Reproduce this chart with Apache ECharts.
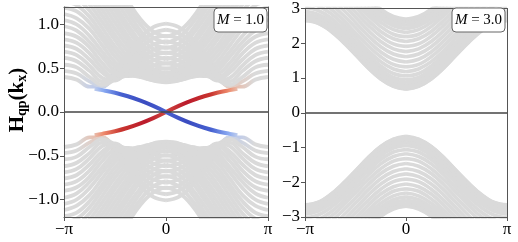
<!DOCTYPE html>
<html><head><meta charset="utf-8">
<script src="https://cdn.jsdelivr.net/npm/echarts@6/dist/echarts.min.js"></script>
<style>html,body{margin:0;padding:0;background:#fff}#c{width:518px;height:242px}</style>
</head><body><div id="c"></div>
<script>
// kx samples (units of pi), half Brillouin zone; the other half is drawn on a mirrored axis
const kxHalf = [0, 0.125, 0.25, 0.375, 0.5, 0.625, 0.75, 0.875, 1];

// M = 1.0 panel, positive-energy bulk bands (negative ones drawn on mirrored y axis)
const leftBands = [
 [1.01,0.97,0.85,0.68,0.46,0.29,0.29,0.37,0.40],
 [0.94,0.90,0.79,0.62,0.42,0.29,0.35,0.44,0.47],
 [0.87,0.84,0.73,0.57,0.38,0.31,0.40,0.51,0.54],
 [0.81,0.77,0.67,0.52,0.37,0.35,0.47,0.58,0.62],
 [0.74,0.71,0.61,0.48,0.36,0.39,0.53,0.65,0.69],
 [0.68,0.65,0.56,0.45,0.37,0.45,0.60,0.72,0.76],
 [0.62,0.59,0.51,0.42,0.39,0.50,0.67,0.79,0.83],
 [0.56,0.53,0.47,0.41,0.43,0.56,0.74,0.86,0.90],
 [0.50,0.48,0.44,0.41,0.47,0.63,0.80,0.93,0.98],
 [0.45,0.44,0.41,0.43,0.52,0.69,0.87,1.00,1.05],
 [0.41,0.40,0.40,0.45,0.57,0.76,0.95,1.07,1.12],
 [0.37,0.37,0.40,0.49,0.63,0.83,1.02,1.15,1.19],
 [0.35,0.36,0.42,0.53,0.69,0.89,1.09,1.22,1.26],
 [0.34,0.36,0.44,0.58,0.75,0.96,1.16,1.29,1.34],
 [0.35,0.38,0.48,0.63,0.82,1.03,1.23,1.36,1.41],
 [0.37,0.41,0.52,0.69,0.88,1.10,1.30,1.43,1.48],
 [0.40,0.45,0.57,0.75,0.95,1.17,1.37,1.51,1.55],
 [0.44,0.49,0.62,0.81,1.02,1.24,1.44,1.58,1.63],
 [0.49,0.54,0.68,0.87,1.09,1.31,1.52,1.65,1.70],
 [0.55,0.60,0.74,0.94,1.16,1.38,1.59,1.72,1.77],
 [0.60,0.66,0.80,1.00,1.22,1.46,1.66,1.79,1.84],
 [0.67,0.72,0.87,1.07,1.29,1.53,1.73,1.86,1.91],
 [0.73,0.78,0.93,1.14,1.36,1.60,1.80,1.94,1.99],
 [0.79,0.85,1.00,1.20,1.43,1.67,1.88,2.01,2.06],
 [0.86,0.92,1.06,1.27,1.50,1.74,1.94,2.08,2.13]
];

// M = 3.0 panel, positive-energy bulk bands
const rightBands = [
 [0.68,0.76,0.97,1.29,1.67,2.04,2.36,2.58,2.65],
 [0.69,0.77,0.98,1.30,1.68,2.05,2.37,2.59,2.66],
 [0.73,0.80,1.01,1.33,1.71,2.09,2.41,2.62,2.70],
 [0.78,0.85,1.07,1.39,1.76,2.14,2.46,2.67,2.75],
 [0.86,0.93,1.14,1.46,1.84,2.22,2.54,2.75,2.83],
 [0.95,1.02,1.24,1.56,1.93,2.31,2.63,2.84,2.92],
 [1.06,1.13,1.35,1.67,2.04,2.42,2.74,2.95,3.03],
 [1.18,1.26,1.47,1.79,2.17,2.55,2.87,3.08,3.15],
 [1.32,1.39,1.61,1.93,2.30,2.68,3.00,3.21,3.29],
 [1.46,1.54,1.75,2.07,2.45,2.82,3.14,3.36,3.43],
 [1.61,1.69,1.90,2.22,2.60,2.97,3.29,3.51,3.58],
 [1.76,1.84,2.05,2.37,2.75,3.12,3.44,3.66,3.73],
 [1.91,1.98,2.20,2.52,2.89,3.27,3.59,3.80,3.88],
 [2.05,2.13,2.34,2.66,3.04,3.41,3.73,3.95,4.02],
 [2.19,2.26,2.48,2.80,3.17,3.55,3.87,4.08,4.16],
 [2.31,2.39,2.60,2.92,3.30,3.67,3.99,4.21,4.28],
 [2.42,2.50,2.71,3.03,3.41,3.78,4.10,4.32,4.39],
 [2.52,2.59,2.80,3.12,3.50,3.88,4.20,4.41,4.49],
 [2.59,2.67,2.88,3.20,3.58,3.95,4.27,4.49,4.56],
 [2.65,2.72,2.93,3.25,3.63,4.01,4.33,4.54,4.62],
 [2.68,2.75,2.97,3.29,3.66,4.04,4.36,4.57,4.65],
 [2.69,2.77,2.98,3.30,3.68,4.05,4.37,4.59,4.66]
];

// chiral edge state (M = 1.0), half branch kx >= 0, E >= 0
const edgeK = [0, 0.125, 0.25, 0.375, 0.5, 0.625, 0.7];
const edgeE = [0, 0.07, 0.13, 0.18, 0.22, 0.25, 0.265];

const xTicks = [-1, 0, 1];
const xTickLabels = ['\u2212\u03c0', '0', '\u03c0'];
const leftYTicks = [-1, -0.5, 0, 0.5, 1];
const rightYTicks = [-3, -2, -1, 0, 1, 2, 3];
const panelLabels = ['1.0', '3.0'];

const FONT = 'Liberation Serif';
const FRAME = '#555';
const GRAY = '#dadada';

const xFmt = v => { const i = xTicks.indexOf(Math.round(v)); return i < 0 ? '' : xTickLabels[i]; };
const yFmt1 = v => (v < 0 ? '\u2212' : '') + Math.abs(v).toFixed(1);
const yFmt0 = v => (v < 0 ? '\u2212' : '') + Math.abs(v).toFixed(0);

function xA(grid, inverse, shown) {
  return { type: 'value', gridIndex: grid, min: -1, max: 1, interval: 1, inverse: inverse,
    position: shown ? 'bottom' : 'top',
    axisLine: { show: true, onZero: false, lineStyle: { color: FRAME, width: 1 } },
    axisTick: { show: shown, length: 4, lineStyle: { color: FRAME } },
    axisLabel: { show: shown, formatter: xFmt, color: '#000', fontFamily: FONT, fontSize: 17, margin: 4 },
    splitLine: { show: false }, z: 10 };
}
function yA(grid, inverse, shown, lim, ticks, fmt) {
  return { type: 'value', gridIndex: grid, min: -lim, max: lim, inverse: inverse,
    position: shown ? 'left' : 'right',
    axisLine: { show: true, onZero: false, lineStyle: { color: FRAME, width: 1 } },
    axisTick: { show: shown, length: 4, lineStyle: { color: FRAME }, customValues: ticks },
    axisLabel: { show: shown, formatter: fmt, color: '#000', fontFamily: FONT, fontSize: 17, margin: 5, customValues: ticks },
    splitLine: { show: false }, z: 10 };
}

// faint edge-weight tint of the lowest bulk bands near the edge-state joints
const redTint = ['#e6c0b1', '#e1cdc5'];
const blueTint = ['#bfcbea', '#ccd3e3'];
function tintGrad(tint, inv) {
  const stops = [{offset:0,color:GRAY},{offset:0.45,color:GRAY},{offset:0.6,color:tint},{offset:0.7,color:tint},{offset:0.85,color:GRAY},{offset:1,color:GRAY}];
  return inv ? new echarts.graphic.LinearGradient(1, 0, 0, 0, stops) : new echarts.graphic.LinearGradient(0, 0, 1, 0, stops);
}

const series = [];
function addBands(bands, xBase, yBase, width, tinted) {
  bands.forEach((b, n) => {
    const data = kxHalf.map((k, i) => [k, b[i]]);
    [0, 1].forEach(dx => [0, 1].forEach(dy => {
      let color = GRAY;
      if (tinted && n < redTint.length) {
        // upper-right & lower-left joints are red-tinted, the other two blue-tinted
        const red = (dx === dy);
        color = tintGrad(red ? redTint[n] : blueTint[n], dx === 1);
      }
      series.push({ type: 'line', xAxisIndex: xBase + dx, yAxisIndex: yBase + dy, data: data,
        smooth: 0.4, symbol: 'none', silent: true, clip: true, z: 2,
        lineStyle: { color: color, width: width } });
    }));
  });
}
addBands(leftBands, 0, 0, 3.8, true);
addBands(rightBands, 2, 2, 3.6, false);

// zero lines
[[0, 0], [2, 2]].forEach(([xi, yi]) => {
  series.push({ type: 'line', xAxisIndex: xi, yAxisIndex: yi, data: [], silent: true, z: 3,
    markLine: { silent: true, symbol: 'none', label: { show: false }, animation: false,
      lineStyle: { color: '#444', width: 1.5, type: 'solid' }, data: [{ yAxis: 0 }] } });
});

// edge states
const edgeData = edgeK.map((k, i) => [k, edgeE[i]]);
const redStops = [{offset:0,color:'#d04a40'},{offset:0.3,color:'#bb1b2c'},{offset:0.62,color:'#c8352f'},{offset:0.85,color:'#ee8a6c'},{offset:1,color:'#e6cabd'}];
const blueStops = [{offset:0,color:'#4a62d2'},{offset:0.3,color:'#3b4cc0'},{offset:0.62,color:'#4660d0'},{offset:0.85,color:'#8aaaf2'},{offset:1,color:'#cdd6ea'}];
function edge(xi, yi, stops, inv) {
  const g = inv ? new echarts.graphic.LinearGradient(1, 0, 0, 0, stops) : new echarts.graphic.LinearGradient(0, 0, 1, 0, stops);
  series.push({ type: 'line', xAxisIndex: xi, yAxisIndex: yi, data: edgeData, smooth: 0.4, symbol: 'none',
    silent: true, clip: true, z: 4, lineStyle: { color: g, width: 4 } });
}
edge(0, 0, redStops, false);   // kx>0, E>0
edge(1, 1, redStops, true);    // kx<0, E<0
edge(0, 1, blueStops, false);  // kx>0, E<0
edge(1, 0, blueStops, true);   // kx<0, E>0

function box(x, label) {
  return [
    { type: 'rect', z: 20, silent: true, shape: { x: x, y: 8, width: 53, height: 24, r: 4 },
      style: { fill: '#ffffff', stroke: '#666666', lineWidth: 1 } },
    { type: 'text', z: 21, silent: true, x: x + 26.5, y: 20,
      style: { text: '{i|M} = ' + label, align: 'center', verticalAlign: 'middle',
        font: '15px "Liberation Serif"', fill: '#000',
        rich: { i: { fontStyle: 'italic', fontFamily: FONT, fontSize: 15, fill: '#000' } } } }
  ];
}

const option = {
  animation: false,
  grid: [ { left: 64, top: 7, width: 204, height: 210 }, { left: 305, top: 7, width: 202, height: 210 } ],
  xAxis: [ xA(0, false, true), xA(0, true, false), xA(1, false, true), xA(1, true, false) ],
  yAxis: [ yA(0, false, true, 1.2, leftYTicks, yFmt1), yA(0, true, false, 1.2, leftYTicks, yFmt1),
           yA(1, false, true, 3, rightYTicks, yFmt0), yA(1, true, false, 3, rightYTicks, yFmt0) ],
  series: series,
  graphic: [].concat(box(214, panelLabels[0]), box(452, panelLabels[1]), [
    { type: 'text', x: 18, y: 100, rotation: Math.PI / 2, z: 20, silent: true,
      style: { text: '{h|H}{s|qp}{h|(k}{s|x}{h|)}', align: 'center', verticalAlign: 'middle',
        rich: { h: { fontFamily: FONT, fontSize: 21, fill: '#000', fontWeight: 'bold' },
                s: { fontFamily: FONT, fontSize: 14, fill: '#000', fontWeight: 'bold', verticalAlign: 'bottom', padding: [8, 0, 0, 0] } } } }
  ])
};
const chart = echarts.init(document.getElementById('c'));
chart.setOption(option);
</script></body></html>
